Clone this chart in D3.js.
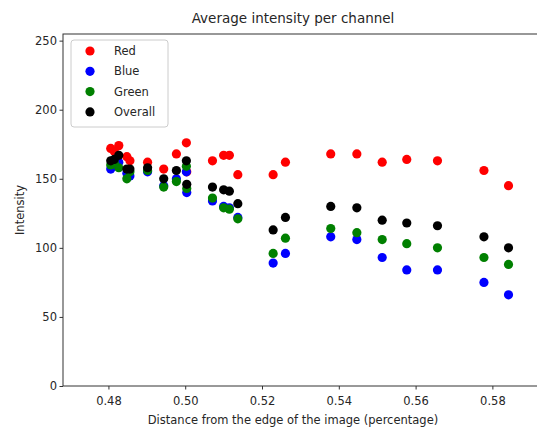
<!DOCTYPE html>
<html>
<head>
<meta charset="utf-8">
<style>
html, body { margin: 0; padding: 0; background: #fff; }
text { font-family: "DejaVu Sans", sans-serif; fill: #262626; }
</style>
<script src="https://cdn.jsdelivr.net/npm/d3@7"></script>
</head>
<body>
<script>
// distance from the edge (fraction) for each sample
var distance = [0.4806, 0.4815, 0.4827, 0.4848, 0.4856, 0.4902, 0.4944, 0.4977, 0.5003, 0.5004,
  0.5071, 0.5100, 0.5115, 0.5137, 0.5229, 0.5261, 0.5379, 0.5447, 0.5513, 0.5577, 0.5657, 0.5778, 0.5842];
var red     = [172, 170, 174, 166, 163, 162, 157, 168, 176, 155, 163, 167, 167, 153, 153, 162, 168, 168, 162, 164, 163, 156, 145];
var blue    = [157, 160, 162, 154, 152, 155, 145, 150, 155, 140, 134, 130, 129, 122,  89,  96, 108, 106,  93,  84,  84,  75,  66];
var green   = [160, 162, 158, 150, 155, 156, 144, 148, 159, 143, 136, 129, 128, 121,  96, 107, 114, 111, 106, 103, 100,  93,  88];
var overall = [163, 164, 167, 157, 157, 158, 150, 156, 163, 146, 144, 142, 141, 132, 113, 122, 130, 129, 120, 118, 116, 108, 100];

var seriesNames = ["Red", "Blue", "Green", "Overall"];
var seriesColors = ["#ff0000", "#0000ff", "#008000", "#000000"];
var seriesValues = [red, blue, green, overall];

var xTicks = [0.48, 0.50, 0.52, 0.54, 0.56, 0.58];
var yTicks = [0, 50, 100, 150, 200, 250];

var w = 537, h = 430;
var plotLeft = 63, plotRight = 540, plotTop = 34, plotBottom = 386;

var svg = d3.select("body").append("svg")
  .attr("width", w)
  .attr("height", h);

var x = d3.scaleLinear().domain([0.46817, 0.5924]).range([plotLeft, plotRight]);
var y = d3.scaleLinear().domain([0, 254.8]).range([plotBottom, plotTop]);

// points, one group per series
seriesValues.forEach(function(vals, s) {
  svg.append("g").selectAll("circle")
    .data(vals)
    .enter().append("circle")
    .attr("cx", function(d, i) { return x(distance[i]); })
    .attr("cy", function(d) { return y(d); })
    .attr("r", 4.6)
    .style("fill", seriesColors[s]);
});

// axes
var xAxis = svg.append("g")
  .attr("transform", "translate(0," + plotBottom + ")")
  .call(d3.axisBottom(x).tickValues(xTicks).tickFormat(d3.format(".2f")).tickSizeOuter(0).tickSize(3.5));
var yAxis = svg.append("g")
  .attr("transform", "translate(" + plotLeft + ",0)")
  .call(d3.axisLeft(y).tickValues(yTicks).tickSizeOuter(0).tickSize(3.5));

[xAxis, yAxis].forEach(function(a) {
  a.select(".domain").remove();
  a.selectAll("line").attr("stroke", "#333");
  a.selectAll("text").style("font-size", "11.5px").attr("fill", "#262626");
});
xAxis.selectAll("text").attr("dy", "1.05em");
yAxis.selectAll("text").attr("x", -6);

// frame (right side falls outside the picture)
svg.append("rect")
  .attr("x", plotLeft).attr("y", plotTop)
  .attr("width", plotRight - plotLeft).attr("height", plotBottom - plotTop)
  .attr("fill", "none").attr("stroke", "#333").attr("stroke-width", 1);

// labels
svg.append("text")
  .attr("x", 293).attr("y", 23)
  .attr("text-anchor", "middle")
  .style("font-size", "13.5px")
  .text("Average intensity per channel");

svg.append("text")
  .attr("x", 293).attr("y", 424)
  .attr("text-anchor", "middle")
  .style("font-size", "11.5px")
  .text("Distance from the edge of the image (percentage)");

svg.append("text")
  .attr("transform", "translate(24," + ((plotTop + plotBottom) / 2) + ") rotate(-90)")
  .attr("text-anchor", "middle")
  .style("font-size", "11.5px")
  .text("Intensity");

// legend
var legend = svg.append("g").attr("transform", "translate(71,40)");
legend.append("rect")
  .attr("width", 97).attr("height", 87)
  .attr("rx", 3)
  .attr("fill", "#fff").attr("fill-opacity", 0.8)
  .attr("stroke", "#ccc");
seriesNames.forEach(function(name, i) {
  legend.append("circle")
    .attr("cx", 19).attr("cy", 11 + i * 20.3)
    .attr("r", 4.6)
    .style("fill", seriesColors[i]);
  legend.append("text")
    .attr("x", 43).attr("y", 15 + i * 20.3)
    .style("font-size", "11.5px")
    .text(name);
});
</script>
</body>
</html>
